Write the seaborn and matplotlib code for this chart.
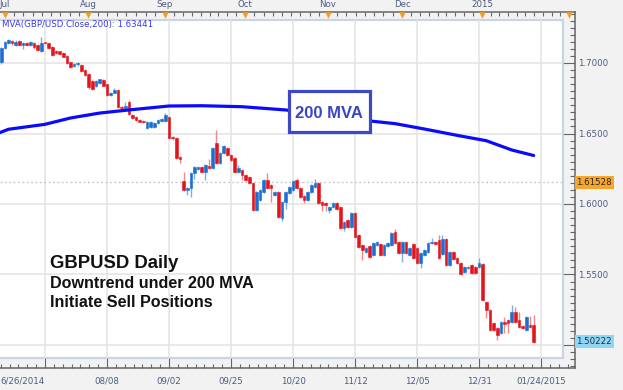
import matplotlib
matplotlib.use("Agg")
import matplotlib.pyplot as plt
from matplotlib.patches import Rectangle
from matplotlib.transforms import blended_transform_factory
import seaborn as sns
import numpy as np

# --- daily GBP/USD candles (bar 0 = first day shown) ---
opens = [1.7007, 1.7104, 1.7140, 1.7158, 1.7128, 1.7158, 1.7128, 1.7144, 1.7125, 1.7145,
         1.7128, 1.7085, 1.7146, 1.7139, 1.7111, 1.7088, 1.7082, 1.7073, 1.7050, 1.7004,
         1.6980, 1.6990, 1.6986, 1.6950, 1.6920, 1.6870, 1.6837, 1.6855, 1.6880, 1.6848,
         1.6775, 1.6790, 1.6810, 1.6690, 1.6684, 1.6723, 1.6631, 1.6617, 1.6596, 1.6590,
         1.6540, 1.6545, 1.6548, 1.6572, 1.6590, 1.6590, 1.6615, 1.6472, 1.6468, 1.6333,
         1.6163, 1.6100, 1.6110, 1.6220, 1.6248, 1.6262, 1.6227, 1.6270, 1.6255, 1.6433,
         1.6291, 1.6362, 1.6397, 1.6348, 1.6326, 1.6227, 1.6241, 1.6206, 1.6192, 1.6149,
         1.5957, 1.6028, 1.6085, 1.6170, 1.6135, 1.6064, 1.6085, 1.5900, 1.6014, 1.6078,
         1.6099, 1.6170, 1.6113, 1.6057, 1.6028, 1.6085, 1.6120, 1.6149, 1.6014, 1.6007,
         1.5957, 1.5979, 1.6007, 1.5979, 1.5830, 1.5886, 1.5837, 1.5936, 1.5780, 1.5709,
         1.5660, 1.5702, 1.5638, 1.5709, 1.5716, 1.5638, 1.5702, 1.5709, 1.5801, 1.5730,
         1.5652, 1.5730, 1.5638, 1.5716, 1.5688, 1.5582, 1.5638, 1.5660, 1.5723, 1.5730,
         1.5745, 1.5645, 1.5752, 1.5567, 1.5660, 1.5617, 1.5580, 1.5520, 1.5545, 1.5567,
         1.5553, 1.5553, 1.5572, 1.5305, 1.5248, 1.5156, 1.5120, 1.5085, 1.5163, 1.5177,
         1.5163, 1.5234, 1.5177, 1.5135, 1.5106, 1.5142, 1.5142]
closes = [1.7106, 1.7150, 1.7160, 1.7144, 1.7151, 1.7128, 1.7140, 1.7125, 1.7148, 1.7110,
          1.7092, 1.7144, 1.7140, 1.7108, 1.7060, 1.7073, 1.7062, 1.7046, 1.7003, 1.6972,
          1.6996, 1.6998, 1.6940, 1.6915, 1.6830, 1.6818, 1.6875, 1.6884, 1.6840, 1.6770,
          1.6790, 1.6810, 1.6688, 1.6684, 1.6695, 1.6638, 1.6612, 1.6598, 1.6585, 1.6580,
          1.6582, 1.6580, 1.6578, 1.6596, 1.6600, 1.6630, 1.6468, 1.6466, 1.6326, 1.6322,
          1.6099, 1.6110, 1.6220, 1.6262, 1.6262, 1.6227, 1.6276, 1.6255, 1.6397, 1.6291,
          1.6362, 1.6411, 1.6348, 1.6312, 1.6227, 1.6255, 1.6206, 1.6170, 1.6149, 1.5957,
          1.6085, 1.6099, 1.6170, 1.6113, 1.6113, 1.6085, 1.5908, 1.6014, 1.6085, 1.6120,
          1.6163, 1.6113, 1.6050, 1.6028, 1.6085, 1.6135, 1.6149, 1.6007, 1.5993, 1.5993,
          1.5979, 1.6007, 1.5965, 1.5830, 1.5872, 1.5837, 1.5936, 1.5766, 1.5695, 1.5674,
          1.5688, 1.5624, 1.5723, 1.5730, 1.5638, 1.5709, 1.5723, 1.5794, 1.5723, 1.5652,
          1.5730, 1.5652, 1.5688, 1.5617, 1.5582, 1.5652, 1.5674, 1.5723, 1.5730, 1.5716,
          1.5617, 1.5752, 1.5567, 1.5660, 1.5610, 1.5582, 1.5505, 1.5553, 1.5553, 1.5511,
          1.5511, 1.5582, 1.5319, 1.5248, 1.5106, 1.5106, 1.5071, 1.5163, 1.5149, 1.5156,
          1.5234, 1.5163, 1.5128, 1.5120, 1.5199, 1.5128, 1.5022]
highs = [1.7115, 1.7158, 1.7168, 1.7166, 1.7160, 1.7165, 1.7148, 1.7152, 1.7155, 1.7150,
         1.7135, 1.7187, 1.7152, 1.7145, 1.7118, 1.7095, 1.7088, 1.7080, 1.7056, 1.7010,
         1.7002, 1.7006, 1.6992, 1.6956, 1.6926, 1.6876, 1.6882, 1.6890, 1.6886, 1.6854,
         1.6796, 1.6825, 1.6816, 1.6696, 1.6720, 1.6738, 1.6637, 1.6623, 1.6602, 1.6596,
         1.6588, 1.6586, 1.6584, 1.6602, 1.6608, 1.6645, 1.6621, 1.6482, 1.6474, 1.6340,
         1.6227, 1.6118, 1.6228, 1.6270, 1.6270, 1.6268, 1.6282, 1.6320, 1.6405, 1.6525,
         1.6370, 1.6420, 1.6405, 1.6355, 1.6332, 1.6280, 1.6248, 1.6212, 1.6198, 1.6155,
         1.6092, 1.6106, 1.6178, 1.6220, 1.6142, 1.6092, 1.6092, 1.6021, 1.6092, 1.6128,
         1.6170, 1.6185, 1.6120, 1.6064, 1.6092, 1.6142, 1.6177, 1.6156, 1.6021, 1.6014,
         1.5986, 1.6014, 1.6014, 1.5986, 1.5879, 1.5893, 1.5943, 1.5943, 1.5787, 1.5716,
         1.5695, 1.5709, 1.5730, 1.5737, 1.5723, 1.5716, 1.5730, 1.5801, 1.5823, 1.5737,
         1.5737, 1.5737, 1.5695, 1.5723, 1.5695, 1.5659, 1.5681, 1.5730, 1.5759, 1.5737,
         1.5780, 1.5780, 1.5759, 1.5667, 1.5667, 1.5624, 1.5590, 1.5560, 1.5560, 1.5574,
         1.5560, 1.5617, 1.5579, 1.5312, 1.5255, 1.5163, 1.5127, 1.5170, 1.5199, 1.5184,
         1.5284, 1.5270, 1.5234, 1.5142, 1.5206, 1.5206, 1.5213]
lows = [1.6995, 1.7098, 1.7132, 1.7128, 1.7120, 1.7120, 1.7100, 1.7118, 1.7118, 1.7102,
        1.7085, 1.7078, 1.7132, 1.7100, 1.7052, 1.7066, 1.7055, 1.7040, 1.6996, 1.6966,
        1.6975, 1.6982, 1.6934, 1.6908, 1.6815, 1.6810, 1.6830, 1.6848, 1.6834, 1.6764,
        1.6768, 1.6784, 1.6682, 1.6676, 1.6678, 1.6632, 1.6606, 1.6592, 1.6579, 1.6574,
        1.6533, 1.6538, 1.6541, 1.6565, 1.6583, 1.6583, 1.6461, 1.6455, 1.6319, 1.6290,
        1.6092, 1.6064, 1.6050, 1.6180, 1.6240, 1.6220, 1.6170, 1.6245, 1.6248, 1.6285,
        1.6285, 1.6355, 1.6340, 1.6305, 1.6220, 1.6220, 1.6170, 1.6163, 1.6142, 1.5950,
        1.5950, 1.6020, 1.6078, 1.6106, 1.6014, 1.6057, 1.5900, 1.5880, 1.5965, 1.6071,
        1.6092, 1.6106, 1.6043, 1.6007, 1.6021, 1.6078, 1.6113, 1.6000, 1.5950, 1.5950,
        1.5936, 1.5972, 1.5957, 1.5823, 1.5805, 1.5830, 1.5830, 1.5759, 1.5688, 1.5603,
        1.5653, 1.5617, 1.5631, 1.5702, 1.5631, 1.5631, 1.5695, 1.5702, 1.5716, 1.5645,
        1.5589, 1.5645, 1.5631, 1.5610, 1.5575, 1.5546, 1.5631, 1.5653, 1.5716, 1.5709,
        1.5610, 1.5638, 1.5560, 1.5560, 1.5603, 1.5575, 1.5498, 1.5513, 1.5538, 1.5504,
        1.5504, 1.5546, 1.5312, 1.5191, 1.5099, 1.5099, 1.5035, 1.5078, 1.5085, 1.5085,
        1.5156, 1.5156, 1.5121, 1.5113, 1.5099, 1.5121, 1.5015]

# 200-day moving average, vertices
mva_bar = [-1, 2, 12, 19, 27, 35, 46, 55, 66, 78, 90, 101, 108, 116, 126, 133, 140, 146]
mva_val = [1.6500, 1.6530, 1.6565, 1.6610, 1.6645, 1.6667, 1.6695, 1.6697, 1.6690,
           1.6667, 1.6630, 1.6589, 1.6570, 1.6532, 1.6482, 1.6449, 1.6383, 1.6344]

date_ticks = [12, 29, 46, 63, 80, 97, 114, 131, 148]
date_labels = ["6/26/2014", "08/08", "09/02", "09/25", "10/20", "11/12", "12/05", "12/31", "01/24/2015"]
month_pos = [1.0, 23.8, 44.9, 66.9, 89.6, 109.9, 131.8, 155.7]
month_labels = ["Jul", "Aug", "Sep", "Oct", "Nov", "Dec", "2015", ""]
price_ticks = [1.50, 1.55, 1.60, 1.65, 1.70]
marker_price = 1.61528
last_price = 1.50222
mva_last = 1.63441

# --- layout (pixels of a 623x390 canvas) ---
W, H = 623, 390
BG = "#f2f2f2"
AXIS_TXT = "#4b5a80"
LINE_C = "#666666"

def fx(px):
    return px / W

def fy(py):
    return 1 - py / H

sns.set_theme(style="white")
plt.rcParams["font.family"] = ["DejaVu Sans"]

fig = plt.figure(figsize=(W / 100, H / 100), dpi=100, facecolor=BG)
# axes spans the axis lines (x 0..575, y 12..368); the white chart frame sits inside
ax = fig.add_axes([0, fy(368), fx(575), (368 - 12) / H])
ax.set_facecolor(BG)

fr_right = 563 / 575
fr_bot = (368 - 358) / 356
fr_top = (368 - 20) / 356
ax.add_patch(Rectangle((-0.01, fr_bot), fr_right + 0.01, fr_top - fr_bot,
                       transform=ax.transAxes, facecolor="white",
                       edgecolor="#ccd4e2", linewidth=1.6, zorder=0.5))

# grid only inside the frame
for t in date_ticks:
    ax.axvline(t, ymin=fr_bot, ymax=fr_top, color="#e3e3e3", lw=1.1, zorder=0.8)
for p in price_ticks:
    ax.axhline(p, xmin=0, xmax=fr_right, color="#e3e3e3", lw=1.1, zorder=0.8)
ax.axhline(marker_price, xmin=0, xmax=fr_right, color="#c4c4c4", lw=0.9,
           ls=(0, (1.5, 2)), zorder=0.9)

# candles
x = np.arange(len(opens))
o = np.array(opens)
c = np.array(closes)
up = c >= o
body_col = np.where(up, "#1c6ed2", "#e2141c")
wick_col = np.where(up, "#7aaee8", "#f08888")
ax.vlines(x, lows, highs, colors=wick_col, lw=1.0, zorder=2)
ax.bar(x, c - o, bottom=o, width=0.72, color=body_col, edgecolor=body_col,
       linewidth=0.4, zorder=2.5)

# 200 MVA
sns.lineplot(x=mva_bar, y=mva_val, ax=ax, color="#0a0aff", lw=2.3, zorder=3, sort=False)

# right price axis
ax.spines["left"].set_visible(False)
ax.spines["top"].set_visible(False)
for s in ("right", "bottom"):
    ax.spines[s].set_color(LINE_C)
    ax.spines[s].set_linewidth(1.1)
ax.yaxis.tick_right()
ax.set_yticks(price_ticks, labels=[f"{p:.4f}" for p in price_ticks])
ax.set_yticks(np.arange(1.485, 1.7351, 0.005), minor=True)
ax.tick_params(axis="y", which="major", direction="in", length=8.6, width=0.8,
               color=LINE_C, pad=2.5, labelsize=6.2, labelcolor=AXIS_TXT)
ax.tick_params(axis="y", which="minor", direction="in", length=3.6, width=0.8, color=LINE_C)

# bottom date axis
ax.xaxis.tick_bottom()
ax.set_xticks(date_ticks, labels=date_labels)
ax.set_xticks(np.arange(date_ticks[0] - 17, 157, 17 / 7), minor=True)
ax.tick_params(axis="x", which="major", direction="in", length=7.2, width=0.8,
               color=LINE_C, pad=6, labelsize=6.2, labelcolor=AXIS_TXT)
ax.tick_params(axis="x", which="minor", direction="in", length=3, width=0.8, color=LINE_C)
ax.get_xticklabels()[0].set_horizontalalignment("right")

# top month axis
sec = ax.secondary_xaxis("top")
sec.spines["top"].set_color(LINE_C)
sec.spines["top"].set_linewidth(1.1)
sec.set_xticks(month_pos, labels=month_labels)
top_minor = []
for a, b in zip(month_pos[:-1], month_pos[1:]):
    n = int(round((b - a) / 2.5))
    top_minor.extend(np.linspace(a, b, n + 1)[1:-1])
sec.set_xticks(top_minor, minor=True)
sec.tick_params(which="major", length=0, pad=2.5, labelsize=6.2, labelcolor=AXIS_TXT)
sec.tick_params(which="minor", direction="in", length=3.2, width=0.8, color=LINE_C)
top_tr = blended_transform_factory(ax.transData, ax.transAxes)
ax.scatter(month_pos, [1 - 3 / 356] * len(month_pos), marker="v", s=22,
           color="#f2a024", transform=top_tr, clip_on=False, zorder=5, linewidths=0)

# price flags on the right axis
flag_tr = blended_transform_factory(ax.transAxes, ax.transData)
ax.text(1 + 1.5 / 575, marker_price, f"{marker_price:.5f}", transform=flag_tr,
        ha="left", va="center", fontsize=6.2, color="#2a2a2a", zorder=6, clip_on=False,
        bbox=dict(boxstyle="square,pad=0.22", fc="#f7a52b", ec="none"))
ax.text(1 + 1.5 / 575, last_price, f"{last_price:.5f}", transform=flag_tr,
        ha="left", va="center", fontsize=6.2, color="#2a2a2a", zorder=6, clip_on=False,
        bbox=dict(boxstyle="square,pad=0.22", fc="#8dd6f6", ec="none"))

# MVA legend text
fig.text(fx(2), fy(25), f"MVA(GBP/USD.Close,200): {mva_last:.5f}", ha="left", va="center",
         fontsize=6.2, color="#3a3ae6")

# "200 MVA" callout box
ax.add_patch(Rectangle((fx(288.5), fy(131.5)), fx(81), 41 / H, transform=fig.transFigure,
                       facecolor="white", edgecolor="#3c48c8", linewidth=2.3,
                       zorder=6, clip_on=False))
ax.text(fx(329), fy(113), "200 MVA", transform=fig.transFigure, ha="center", va="center",
        fontsize=12, fontweight="bold", color="#3a46c0", family=["Liberation Sans"],
        zorder=7)

# annotation
fig.text(fx(50), fy(268), "GBPUSD Daily", ha="left", va="baseline", fontsize=13.3,
         fontweight="bold", color="#111111", family=["Liberation Sans"])
fig.text(fx(50), fy(288), "Downtrend under 200 MVA", ha="left", va="baseline",
         fontsize=11.6, fontweight="bold", color="#111111", family=["Liberation Sans"])
fig.text(fx(50), fy(307), "Initiate Sell Positions", ha="left", va="baseline",
         fontsize=11.6, fontweight="bold", color="#111111", family=["Liberation Sans"])

# fix the scales last so nothing above re-autoscales them
ax.autoscale(False)
ax.set_xlim(-1.2 / 3.647, (575 - 1.2) / 3.647)
ax.set_ylim(1.70 - (368 - 63) / 1410, 1.70 + (63 - 12) / 1410)
sec.set_xlim(ax.get_xlim())

fig.savefig("out.png", dpi=100, facecolor=BG)
